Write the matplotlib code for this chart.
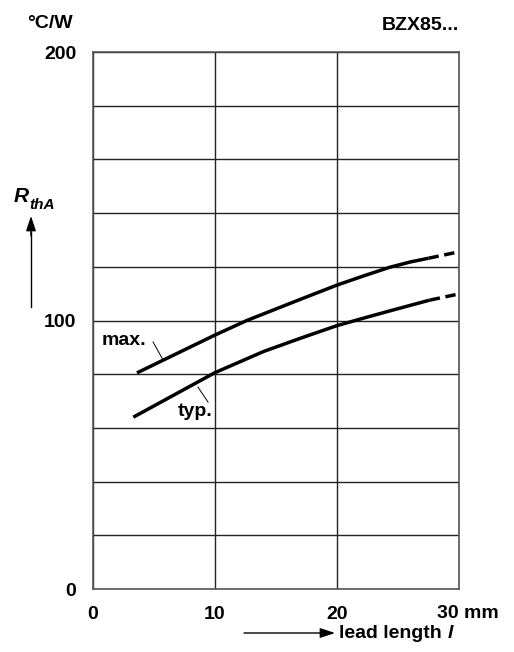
#!/usr/bin/env python3
"""Thermal resistance vs lead length (BZX85 datasheet style)
"""

import matplotlib; matplotlib.use('Agg')
import matplotlib.pyplot as plt

##########################################################
# data
max_x = [3.6, 10, 12.6, 17, 20, 22.3, 24.3, 26, 27.5]
max_y = [80.5, 94.6, 100, 107.9, 113.2, 116.8, 119.8, 121.8, 123.2]
max_dash_x = [27.5, 30]
max_dash_y = [123.2, 125.6]

typ_x = [3.3, 10, 14, 17, 20, 22.5, 24.5, 27.6]
typ_y = [64, 80.6, 88.5, 93.4, 98.1, 101.3, 103.8, 107.6]
typ_dash_x = [27.6, 30]
typ_dash_y = [107.6, 109.9]

xticks = [0, 10, 20, 30]
xticklabels = ['0', '10', '20', '']
yticks = list(range(0, 201, 20))
yticklabels = ['0', '', '', '', '', '100', '', '', '', '', '200']

##########################################################
def main():
    plt.rcParams['font.family'] = ['Liberation Sans', 'DejaVu Sans']
    plt.rcParams['font.weight'] = 'bold'
    fs = 14

    fig = plt.figure(figsize=(5.14, 6.52), dpi=100)
    ax = fig.add_axes([0.181, 0.0966, 0.712, 0.8236])
    ax.set_xlim(0, 30); ax.set_ylim(0, 200)

    ax.set_xticks(xticks); ax.set_xticklabels(xticklabels, fontsize=fs, fontweight='bold')
    ax.set_yticks(yticks); ax.set_yticklabels(yticklabels, fontsize=fs, fontweight='bold')
    ax.tick_params(axis='x', length=0, pad=12)
    ax.tick_params(axis='y', length=0, pad=12)
    ax.grid(True, color='#222222', lw=1.0)
    for s in ax.spines.values():
        s.set_color('#555555'); s.set_linewidth(1.2)

    ax.plot(max_x, max_y, color='black', lw=2.5, solid_capstyle='butt')
    ax.plot(max_dash_x, max_dash_y, color='black', lw=2.5, ls=(0, (3, 1.6)))
    ax.plot(typ_x, typ_y, color='black', lw=2.5, solid_capstyle='butt')
    ax.plot(typ_dash_x, typ_dash_y, color='black', lw=2.5, ls=(0, (3, 1.6)))

    # curve labels with leaders
    ax.text(2.5, 92.7, 'max.', fontsize=fs, fontweight='bold', ha='center', va='center')
    ax.plot([4.92, 5.74], [92, 85.3], color='black', lw=0.7)
    ax.text(8.4, 66.0, 'typ.', fontsize=fs, fontweight='bold', ha='center', va='center')
    ax.plot([8.6, 9.43], [75.2, 69.6], color='black', lw=0.7)

    # last x label with unit
    fig.text(437 / 514, 1 - 614 / 652, '30 mm', fontsize=fs, fontweight='bold',
             ha='left', va='center')

    # header texts
    fig.text(27 / 514, 1 - 24 / 652, '°C/W', fontsize=fs, fontweight='bold', va='center')
    fig.text(459 / 514, 1 - 26 / 652, 'BZX85...', fontsize=fs, fontweight='bold',
             ha='right', va='center')

    # y axis quantity with arrow
    fig.text(14 / 514, 1 - 196 / 652, 'R', fontsize=fs + 1, fontweight='bold',
             fontstyle='italic', va='center')
    fig.text(29 / 514, 1 - 205 / 652, 'thA', fontsize=fs - 3, fontweight='bold',
             fontstyle='italic', va='center')
    fig.add_artist(plt.Line2D([31 / 514, 31 / 514], [1 - 307 / 652, 1 - 232 / 652],
                              color='black', lw=1.0))
    ax.annotate('', xy=(31 / 514, 1 - 216 / 652), xytext=(31 / 514, 1 - 236 / 652),
                xycoords='figure fraction', textcoords='figure fraction',
                arrowprops=dict(arrowstyle='-|>,head_length=0.9,head_width=0.3',
                                color='black', lw=1.0, shrinkA=0, shrinkB=0))

    # x axis quantity with arrow
    ax.annotate('', xy=(335 / 514, 1 - 633 / 652), xytext=(244 / 514, 1 - 633 / 652),
                xycoords='figure fraction', textcoords='figure fraction',
                arrowprops=dict(arrowstyle='-|>,head_length=0.9,head_width=0.3',
                                color='black', lw=1.0, shrinkA=0, shrinkB=0))
    fig.text(339 / 514, 1 - 633 / 652, 'lead length', fontsize=fs, fontweight='bold',
             va='center')
    fig.text(448 / 514, 1 - 633 / 652, 'l', fontsize=fs, fontweight='bold',
             fontstyle='italic', va='center')

    fig.savefig('out.png', dpi=100)

##########################################################
if __name__ == "__main__":
    main()
